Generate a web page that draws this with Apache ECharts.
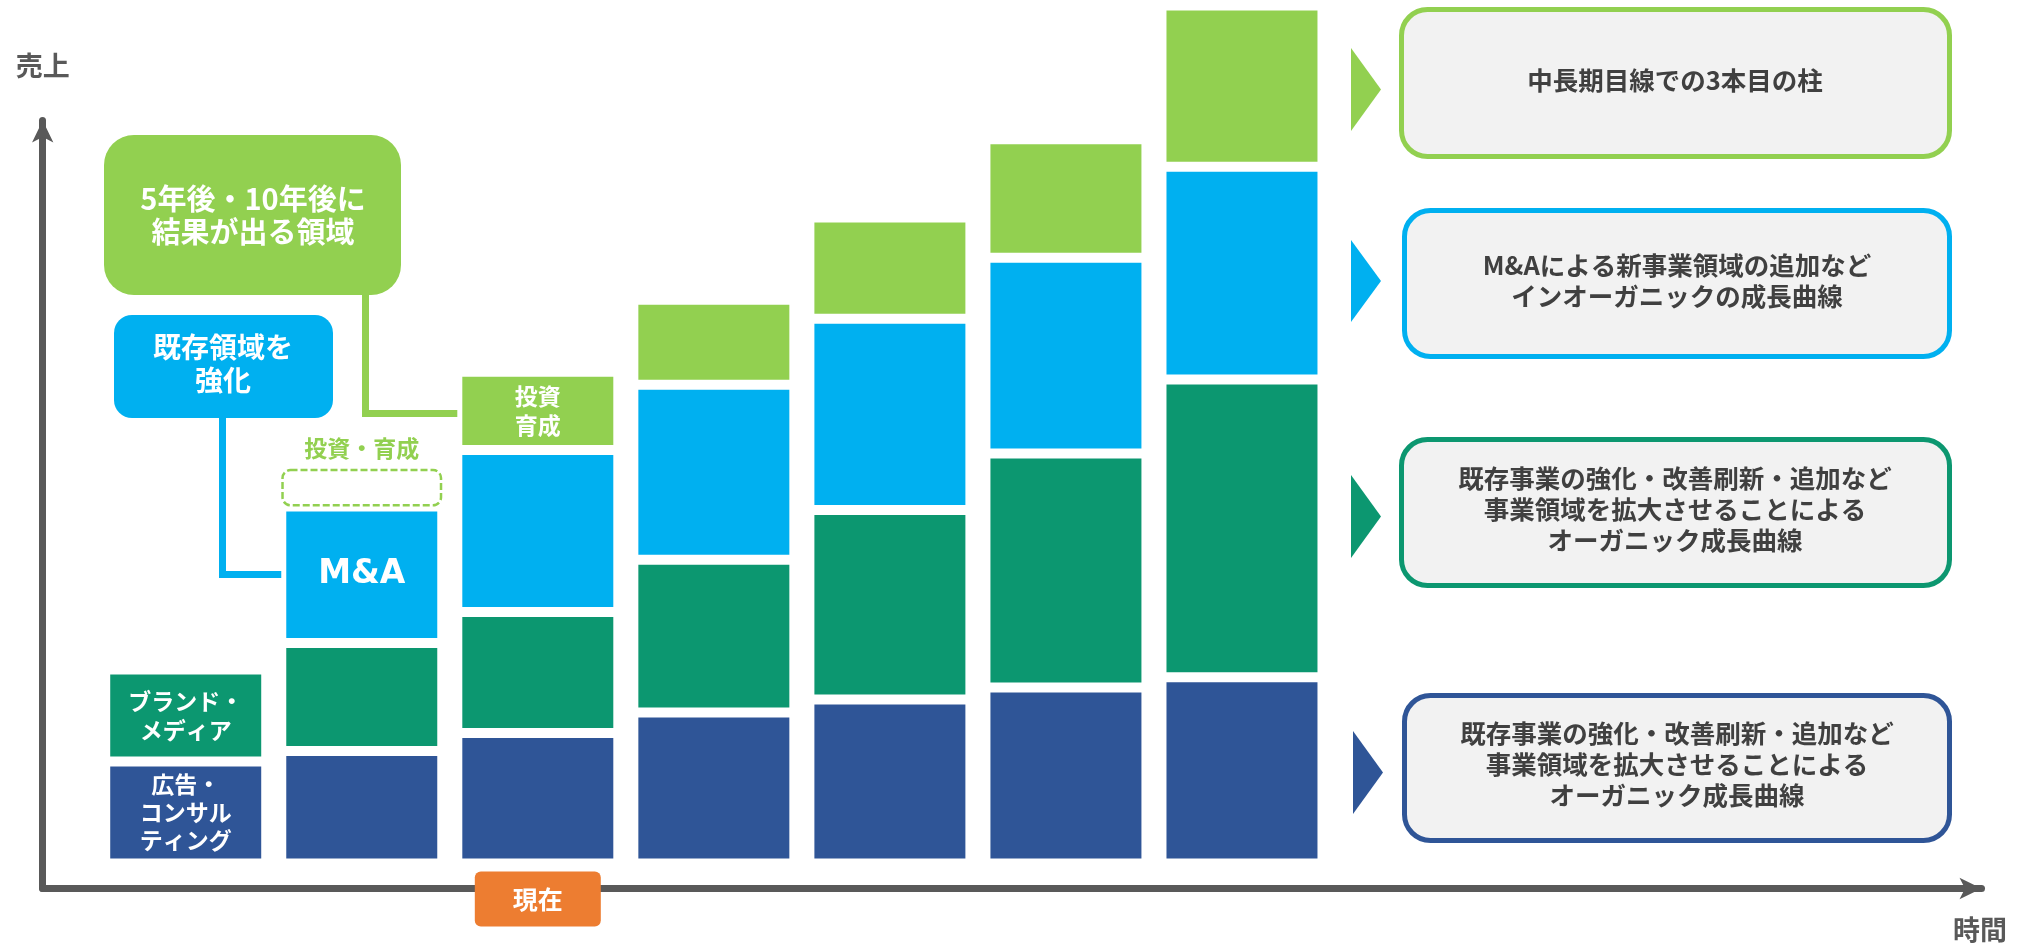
<!DOCTYPE html>
<html lang="ja">
<head>
<meta charset="utf-8">
<title>売上の成長イメージ</title>
<script src="https://cdn.jsdelivr.net/npm/echarts@6.0.0/dist/echarts.min.js"></script>
<style>
    html, body { margin: 0; padding: 0; background: #ffffff; }
    #main { width: 2031px; height: 944px; }
</style>
</head>
<body>
<div id="main"></div>
<script>
/* ============================
   DATOS
============================ */
const categorias = ['', '', '現在', '', '', '', ''];

// 広告・コンサルティング (abajo)
const serieAzulOscuro = [11.9, 13.1, 15.2, 17.6, 19.1, 20.5, 21.7];
// ブランド・メディア
const serieVerde = [10.7, 12.6, 14.1, 17.8, 22.1, 27.3, 34.7];
// M&A
const serieAzulClaro = ['-', 15.9, 18.9, 20.4, 22.3, 22.8, 24.8];
// 投資・育成
const serieLima = ['-', 4.4, 9.1, 9.9, 11.8, 13.8, 18.8];

const textosNotas = [
    '中長期目線での3本目の柱',
    'M&Aによる新事業領域の追加など\nインオーガニックの成長曲線',
    '既存事業の強化・改善刷新・追加など\n事業領域を拡大させることによる\nオーガニック成長曲線',
    '既存事業の強化・改善刷新・追加など\n事業領域を拡大させることによる\nオーガニック成長曲線'
];

const COLOR = {
    oscuro: '#2f5597',
    verde: '#0c9770',
    claro: '#00b0f0',
    lima: '#92d050',
    naranja: '#ed7d31',
    eje: '#595959',
    nota: '#404040',
    caja: '#f2f2f2'
};
const FUENTE = '"Noto Sans CJK JP", "Noto Sans", sans-serif';

/* ============================
   UTILIDADES
============================ */
function etiquetaBlanca(texto, size, lh, familia) {
    return {
        show: true,
        position: 'inside',
        formatter: texto,
        color: '#ffffff',
        fontFamily: familia || FUENTE,
        fontWeight: 'bold',
        fontSize: size,
        lineHeight: lh
    };
}

function serieBarra(nombre, valores, color, extras) {
    return {
        name: nombre,
        type: 'bar',
        stack: 'total',
        barWidth: 161,
        itemStyle: { color: color, borderColor: '#ffffff', borderWidth: 5 },
        data: valores.map((v, i) => extras[i] ? { value: v, ...extras[i] } : v)
    };
}

function texto(x, y, txt, size, color, lh) {
    return {
        type: 'text',
        x: x,
        y: y,
        z: 10,
        style: {
            text: txt,
            fill: color,
            fontFamily: FUENTE,
            fontWeight: 'bold',
            fontSize: size,
            lineHeight: lh || size,
            align: 'center',
            verticalAlign: 'middle'
        }
    };
}

/* ============================
   GRAFICOS AUXILIARES
============================ */
const cajasNotas = [
    { color: COLOR.lima, caja: [1399, 7, 553, 152], tri: [1351, 48, 131], centro: [1675, 80] },
    { color: COLOR.claro, caja: [1402, 208, 550, 151], tri: [1351, 240, 322], centro: [1677, 281] },
    { color: COLOR.verde, caja: [1399, 437, 553, 151], tri: [1351, 475, 558], centro: [1675, 509] },
    { color: COLOR.oscuro, caja: [1402, 693, 550, 150], tri: [1353, 731, 814], centro: [1677, 764] }
];

const graficos = [];

// conectores
graficos.push({
    type: 'polyline',
    z: 1,
    shape: { points: [[365.5, 290], [365.5, 413.5], [462, 413.5]] },
    style: { stroke: COLOR.lima, lineWidth: 7, fill: null, lineJoin: 'miter' }
});
graficos.push({
    type: 'polyline',
    z: 1,
    shape: { points: [[222.5, 410], [222.5, 574.5], [285, 574.5]] },
    style: { stroke: COLOR.claro, lineWidth: 7, fill: null, lineJoin: 'miter' }
});

// globos de la izquierda
graficos.push({
    type: 'rect', z: 5,
    shape: { x: 104, y: 135, width: 297, height: 160, r: 30 },
    style: { fill: COLOR.lima }
});
graficos.push(texto(253, 215, '5年後・10年後に\n結果が出る領域', 29, '#ffffff', 33));
graficos.push({
    type: 'rect', z: 5,
    shape: { x: 114, y: 315, width: 219, height: 103, r: 18 },
    style: { fill: COLOR.claro }
});
graficos.push(texto(223, 364, '既存領域を\n強化', 28, '#ffffff', 33));

// notas de la derecha
cajasNotas.forEach((n, i) => {
    const [x, y, w, h] = n.caja;
    const [tx, t0, t1] = n.tri;
    graficos.push({
        type: 'polygon', z: 5,
        shape: { points: [[tx, t0], [tx + 30, (t0 + t1) / 2], [tx, t1]] },
        style: { fill: n.color }
    });
    graficos.push({
        type: 'rect', z: 5,
        shape: { x: x + 2.5, y: y + 2.5, width: w - 5, height: h - 5, r: 26 },
        style: { fill: COLOR.caja, stroke: n.color, lineWidth: 5 }
    });
    graficos.push(texto(n.centro[0], n.centro[1], textosNotas[i], 25.5, COLOR.nota, 31));
});

/* ============================
   OPCIONES
============================ */
const ejeFlecha = {
    show: true,
    onZero: false,
    symbol: ['none', 'arrow'],
    symbolSize: [16, 22],
    lineStyle: { color: COLOR.eje, width: 7 }
};

const option = {
    animation: false,
    backgroundColor: '#ffffff',
    grid: [
        { left: 97.7, right: 701, top: 5.5, bottom: 80.5 },
        { left: 42.7, right: 49.5, top: 120.5, bottom: 55.5 }
    ],
    xAxis: [
        {
            type: 'category',
            gridIndex: 0,
            data: categorias,
            z: 5,
            axisLine: { show: false },
            axisTick: { show: false },
            axisLabel: {
                interval: 0,
                margin: 22,
                formatter: v => v ? '{ahora|' + v + '}' : '',
                rich: {
                    ahora: {
                        backgroundColor: COLOR.naranja,
                        color: '#ffffff',
                        fontFamily: FUENTE,
                        fontWeight: 'bold',
                        fontSize: 25,
                        lineHeight: 27,
                        padding: [15, 38, 15, 38],
                        borderRadius: 6
                    }
                }
            }
        },
        {
            type: 'value',
            gridIndex: 1,
            min: 0,
            max: 1,
            z: 1,
            name: '時間',
            nameLocation: 'end',
            nameGap: -1.5,
            nameTextStyle: {
                color: COLOR.eje,
                fontFamily: FUENTE,
                fontWeight: 'bold',
                fontSize: 27,
                align: 'center',
                verticalAlign: 'top',
                padding: [28, 0, 0, 0]
            },
            axisLine: ejeFlecha,
            axisTick: { show: false },
            axisLabel: { show: false },
            splitLine: { show: false }
        }
    ],
    yAxis: [
        { type: 'value', gridIndex: 0, min: 0, max: 100, show: false },
        {
            type: 'value',
            gridIndex: 1,
            min: 0,
            max: 1,
            z: 1,
            name: '売上',
            nameLocation: 'end',
            nameGap: 41.5,
            nameTextStyle: {
                color: COLOR.eje,
                fontFamily: FUENTE,
                fontWeight: 'bold',
                fontSize: 27,
                align: 'center',
                verticalAlign: 'bottom'
            },
            axisLine: ejeFlecha,
            axisTick: { show: false },
            axisLabel: { show: false },
            splitLine: { show: false }
        }
    ],
    series: [
        serieBarra('広告・コンサルティング', serieAzulOscuro, COLOR.oscuro, {
            0: { label: etiquetaBlanca('広告・\nコンサル\nティング', 23, 28) }
        }),
        serieBarra('ブランド・メディア', serieVerde, COLOR.verde, {
            0: { label: etiquetaBlanca('ブランド・\nメディア', 23, 29) }
        }),
        serieBarra('M&A', serieAzulClaro, COLOR.claro, {
            1: { label: etiquetaBlanca('M&A', 33, 36, '"DejaVu Sans", sans-serif') }
        }),
        serieBarra('投資・育成', serieLima, COLOR.lima, {
            1: {
                itemStyle: {
                    color: 'rgba(0,0,0,0)',
                    borderColor: COLOR.lima,
                    borderWidth: 2.5,
                    borderType: [7, 3],
                    borderRadius: 8
                },
                label: {
                    show: true,
                    position: 'top',
                    distance: 9,
                    formatter: '投資・育成',
                    color: COLOR.lima,
                    fontFamily: FUENTE,
                    fontWeight: 'bold',
                    fontSize: 23
                }
            },
            2: { label: etiquetaBlanca('投資\n育成', 23, 29) }
        })
    ],
    graphic: graficos
};

let myChart = echarts.init(document.getElementById('main'));
myChart.setOption(option);
window.addEventListener('resize', () => myChart.resize());
</script>
</body>
</html>
